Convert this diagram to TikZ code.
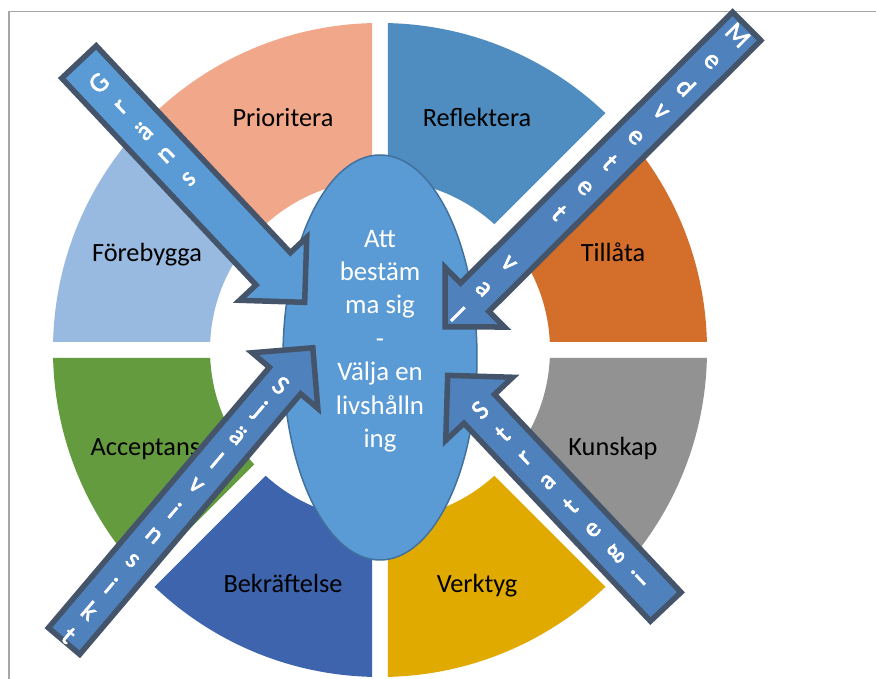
\documentclass[tikz,border=0pt]{standalone}
\usepackage{fontspec}
\setmainfont{Carlito}
\newfontfamily\arrowfont{Carlito}[FakeBold=2.2]
\usetikzlibrary{calc,shapes.geometric}

\definecolor{cPrior}{HTML}{F1A78A}
\definecolor{cRefl}{HTML}{4F8CBF}
\definecolor{cTill}{HTML}{D36E2B}
\definecolor{cKuns}{HTML}{929292}
\definecolor{cVerk}{HTML}{E1AA00}
\definecolor{cBekr}{HTML}{3D64AD}
\definecolor{cAcc}{HTML}{639B3E}
\definecolor{cFore}{HTML}{98B9E0}
\definecolor{ellFill}{HTML}{5B9BD5}
\definecolor{ellLine}{HTML}{41719C}
\definecolor{arrowLight}{HTML}{5B9BD5}
\definecolor{arrowMid}{HTML}{4F81BD}
\definecolor{arrowLine}{HTML}{44546A}
\definecolor{frameGray}{HTML}{A6A6A6}

% one eighth of the ring, separated from its neighbours by a 16pt gap
\newcommand\ringpart[2]{%
  \begin{scope}
    \clip ({#1+22.5}:20.9) -- +(#1:700) -- +({#1+45}:700) -- cycle;
    \fill[#2, even odd rule] (0,0) circle (327) (0,0) circle (170);
  \end{scope}}

% block arrow: tail, angle, length, half shaft width, half head width, fill
\newcommand\blockarrow[6]{%
  \begin{scope}[shift={(#1)}, rotate=#2]
    \filldraw[arrowbody, fill=#6]
      (0,#4) -- ({#3-#5},#4) -- ({#3-#5},#5) -- (#3,0)
      -- ({#3-#5},-#5) -- ({#3-#5},-#4) -- (0,-#4) -- cycle;
  \end{scope}}

\begin{document}
\begin{tikzpicture}[x=1pt,y=1pt,
  seclabel/.style={text=black, font=\fontsize{26.3}{31}\selectfont, inner sep=0pt, anchor=base},
  arrowtext/.style={text=white, font=\arrowfont\fontsize{27}{32}\selectfont, inner sep=0pt},
  arrowbody/.style={draw=arrowLine, line width=5.5pt, line join=miter},
]
\useasboundingbox (-380,-329) rectangle (496,350);
\fill[white] (-380,-329) rectangle (496,350);

% page frame
\draw[frameGray, line width=1.5pt] (-371,-335) -- (-371,338.5) -- (500,338.5);

% ring
\ringpart{90}{cPrior}
\ringpart{45}{cRefl}
\ringpart{0}{cTill}
\ringpart{-45}{cKuns}
\ringpart{-90}{cVerk}
\ringpart{-135}{cBekr}
\ringpart{180}{cAcc}
\ringpart{135}{cFore}

% ring labels
\node[seclabel] (prioritera)  at (-97,223.3)    {Prioritera};
\node[seclabel] (reflektera)  at (97,223.3)     {Reflektera};
\node[seclabel] (forebygga)   at (-233,88.3)    {Förebygga};
\node[seclabel] (tillata)     at (233,88.3)     {Tillåta};
\node[seclabel] (acceptans)   at (-234.6,-105.8) {Acceptans};
\node[seclabel] (kunskap)     at (233,-105.8)   {Kunskap};
\node[seclabel] (bekraftelse) at (-97,-243)     {Bekräftelse};
\node[seclabel] (verktyg)     at (97,-243)      {Verktyg};

% centre
\node[ellipse, draw=ellLine, line width=1.5pt, fill=ellFill, inner sep=0pt,
      minimum width=194pt, minimum height=405pt] (core) at (0,-7.5) {};
\node[text=white, align=center, inner sep=0pt,
      font=\fontsize{26.8}{33.4}\selectfont] (coretext) at (0,9)
  {Att\\bestäm\\ma sig\\-\\Välja en\\livshålln\\ing};

% arrow ends
\coordinate (grT) at (-301,288);    \coordinate (grH) at (-75.4,47.6);
\coordinate (mvT) at (366.7,323.7); \coordinate (mvH) at (65,23);
\coordinate (sjT) at (-315.9,-291.1); \coordinate (sjH) at (-67.3,2.3);
\coordinate (stT) at (285.7,-256.7); \coordinate (stH) at (67.5,-25.5);

% arrows
\blockarrow{grT}{-46.8}{329.7}{23.6}{46}{arrowLight}
\blockarrow{mvT}{-135.1}{425.9}{20}{42}{arrowMid}
\blockarrow{sjT}{49.7}{384.6}{20.5}{43}{arrowMid}
\blockarrow{stT}{133.3}{317.9}{21}{46}{arrowMid}

% stacked letters along the arrows
\foreach \ch [count=\i from 0] in {G,r,ä,n,s} {
  \pgfmathsetmacro\dpos{28.9+\i*32.9}
  \node[arrowtext, rotate=43.2] (gr-\i) at ($(grT)!\dpos pt!(grH)$) {\ch};
}
\node[arrowtext, rotate=-45.1] (mv-0) at ($(mvT)!12.5pt!(mvH)$) {M};
\foreach \ch [count=\i from 1] in {e,d,v,e,t,e,t} {
  \pgfmathsetmacro\dpos{14+\i*35.8}
  \node[arrowtext, rotate=-45.1] (mv-\i) at ($(mvT)!\dpos pt!(mvH)$) {\ch};
}
\foreach \ch [count=\i from 9] in {v,a,l} {
  \pgfmathsetmacro\dpos{14+\i*35.8}
  \node[arrowtext, rotate=-45.1] (mv-\i) at ($(mvT)!\dpos pt!(mvH)$) {\ch};
}
\foreach \ch [count=\i from 0] in {S,j,ä,l,v,i,n,s,i,k,t} {
  \pgfmathsetmacro\dpos{49.4+\i*32.8}
  \node[arrowtext, rotate=-40.3] (sj-\i) at ($(sjH)!\dpos pt!(sjT)$) {\ch};
}
\foreach \ch [count=\i from 0] in {S,t,r,a,t,e,g,i} {
  \pgfmathsetmacro\dpos{47.4+\i*32.96}
  \node[arrowtext, rotate=43.3] (st-\i) at ($(stH)!\dpos pt!(stT)$) {\ch};
}
\end{tikzpicture}
\end{document}
